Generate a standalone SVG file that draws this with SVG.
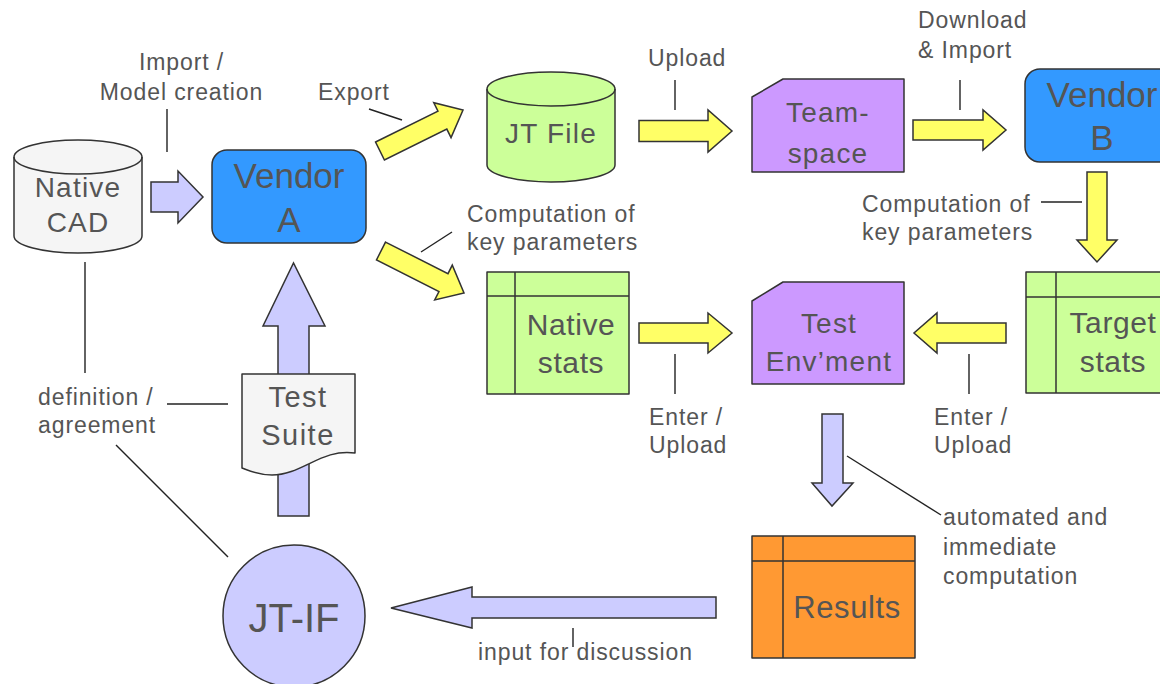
<svg xmlns="http://www.w3.org/2000/svg" width="1160" height="684" viewBox="0 0 1160 684">
<style>
.shape{stroke:#333;stroke-width:1.5;stroke-linejoin:round}
.grid{stroke:#333;stroke-width:1.5;fill:none}
.yel{fill:#ffff66;stroke:#333;stroke-width:1.5;stroke-linejoin:miter}
.lav{fill:#ccccff;stroke:#333;stroke-width:1.5;stroke-linejoin:miter}
.lead{stroke:#222;stroke-width:1.4;fill:none}
text{font-family:"Liberation Sans",Arial,sans-serif;fill:#555}
.lbl{font-size:23px;letter-spacing:0.9px}
.nt{font-size:28px;letter-spacing:1.2px;text-anchor:middle}
.vt{font-size:35px;text-anchor:middle}
</style>
<rect width="1160" height="684" fill="#fff"/>

<g id="connectors">
  <!-- yellow arrows -->
  <polygon class="yel" transform="translate(380,151) rotate(-26.3)" points="0,-10 69.6,-10 69.6,-19.5 92.6,0 69.6,19.5 69.6,10 0,10"/>
  <polygon class="yel" transform="translate(381,251) rotate(26.8)" points="0,-10 70,-10 70,-19.5 93,0 70,19.5 70,10 0,10"/>
  <polygon class="yel" points="639,120.5 708,120.5 708,110 732,131 708,152 708,141.5 639,141.5"/>
  <polygon class="yel" points="913,120 983,120 983,110 1006,130 983,150 983,140 913,140"/>
  <polygon class="yel" points="639,323 708,323 708,313 732,333 708,353 708,343 639,343"/>
  <polygon class="yel" points="1006,323 937,323 937,313 914,333 937,353 937,343 1006,343"/>
  <polygon class="yel" points="1087,172 1107,172 1107,240 1117,240 1097,262 1077,240 1087,240"/>
  <!-- lavender arrows -->
  <polygon class="lav" points="151,182 178,182 178,171 203,197 178,223 178,212 151,212"/>
  <polygon class="lav" points="278,516 278,326 263,326 293.5,263 325,326 309,326 309,516"/>
  <polygon class="lav" points="822,414 843,414 843,483 853,483 832,506 812,483 822,483"/>
  <polygon class="lav" points="716,597 472,597 472,587 391,608 472,628 472,618 716,618"/>
  <!-- label leader lines -->
  <line class="lead" x1="167" y1="109" x2="167" y2="152"/>
  <line class="lead" x1="369" y1="109" x2="402" y2="120"/>
  <line class="lead" x1="675" y1="80" x2="675" y2="110"/>
  <line class="lead" x1="960" y1="80" x2="960" y2="110"/>
  <line class="lead" x1="421" y1="252" x2="452" y2="232"/>
  <line class="lead" x1="1041" y1="202" x2="1082" y2="202"/>
  <line class="lead" x1="675" y1="354" x2="675" y2="394"/>
  <line class="lead" x1="969" y1="354" x2="969" y2="394"/>
  <line class="lead" x1="847" y1="456" x2="941" y2="515"/>
  <line class="lead" x1="573" y1="628" x2="573" y2="647"/>
  <line class="lead" x1="85" y1="262" x2="85" y2="373"/>
  <line class="lead" x1="167" y1="404" x2="228" y2="404"/>
  <line class="lead" x1="116" y1="445" x2="228" y2="557"/>
  <!-- labels -->
  <text class="lbl" x="181.5" y="70" text-anchor="middle">Import /</text>
  <text class="lbl" x="181.5" y="100" text-anchor="middle">Model creation</text>
  <text class="lbl" x="318" y="100">Export</text>
  <text class="lbl" x="648" y="66">Upload</text>
  <text class="lbl" x="918" y="28">Download</text>
  <text class="lbl" x="918" y="58">&amp; Import</text>
  <text class="lbl" x="467" y="222">Computation of</text>
  <text class="lbl" x="467" y="250">key parameters</text>
  <text class="lbl" x="862" y="212">Computation of</text>
  <text class="lbl" x="862" y="240">key parameters</text>
  <text class="lbl" x="649" y="425">Enter /</text>
  <text class="lbl" x="649" y="453">Upload</text>
  <text class="lbl" x="934" y="425">Enter /</text>
  <text class="lbl" x="934" y="453">Upload</text>
  <text class="lbl" x="943" y="525">automated and</text>
  <text class="lbl" x="943" y="555">immediate</text>
  <text class="lbl" x="943" y="584">computation</text>
  <text class="lbl" x="478" y="660">input for discussion</text>
  <text class="lbl" x="38" y="405">definition /</text>
  <text class="lbl" x="38" y="433">agreement</text>
</g>

<g id="native-cad">
  <path class="shape" fill="#f5f5f5" d="M14,157 A64,17 0 0 1 142,157 L142,236 A64,17 0 0 1 14,236 Z"/>
  <path class="shape" fill="none" d="M14,157 A64,17 0 0 0 142,157"/>
  <text class="nt" x="78" y="197">Native</text>
  <text class="nt" x="78" y="232">CAD</text>
</g>

<g id="vendor-a">
  <rect class="shape" fill="#3399ff" x="212" y="150" width="154" height="93" rx="15"/>
  <text class="vt" x="289" y="188">Vendor</text>
  <text class="vt" x="289" y="232">A</text>
</g>

<g id="jt-file">
  <path class="shape" fill="#ccff99" d="M487,89 A64,17 0 0 1 615,89 L615,165 A64,17 0 0 1 487,165 Z"/>
  <path class="shape" fill="none" d="M487,89 A64,17 0 0 0 615,89"/>
  <text class="nt" x="551" y="143">JT File</text>
</g>

<g id="team-space">
  <polygon class="shape" fill="#cc99ff" points="752,97 783,79 904,79 904,172 752,172"/>
  <text class="nt" x="828" y="122">Team-</text>
  <text class="nt" x="828" y="163">space</text>
</g>

<g id="vendor-b">
  <rect class="shape" fill="#3399ff" x="1025" y="69" width="154" height="93" rx="15"/>
  <text class="vt" x="1102" y="107">Vendor</text>
  <text class="vt" x="1102" y="150">B</text>
</g>

<g id="native-stats">
  <rect class="shape" fill="#ccff99" x="487" y="272" width="142" height="122"/>
  <path class="grid" d="M515,272 V394 M487,296 H629"/>
  <text class="nt" x="571" y="335" style="font-size:30px;letter-spacing:0.6px">Native</text>
  <text class="nt" x="571" y="373" style="font-size:30px;letter-spacing:0.6px">stats</text>
</g>

<g id="test-env">
  <polygon class="shape" fill="#cc99ff" points="752,301 783,282 904,282 904,384 752,384"/>
  <text class="nt" x="829" y="333">Test</text>
  <text class="nt" x="829" y="371">Env’ment</text>
</g>

<g id="target-stats">
  <rect class="shape" fill="#ccff99" x="1026" y="272" width="142" height="121"/>
  <path class="grid" d="M1056,272 V393 M1026,297 H1168"/>
  <text class="nt" x="1113" y="333" style="font-size:30px;letter-spacing:0.6px">Target</text>
  <text class="nt" x="1113" y="372" style="font-size:30px;letter-spacing:0.6px">stats</text>
</g>

<g id="results">
  <rect class="shape" fill="#ff9933" x="752" y="536" width="163" height="122"/>
  <path class="grid" d="M783,536 V658 M752,561 H915"/>
  <text class="nt" x="847" y="618" style="font-size:31px;letter-spacing:0.6px">Results</text>
</g>

<g id="test-suite">
  <path class="shape" fill="#f5f5f5" d="M242,374 H355 V453 C322,448 302,475 272,475 C258,475 250,471 242,468 Z"/>
  <text class="nt" x="298" y="407" style="font-size:29px;letter-spacing:1.5px">Test</text>
  <text class="nt" x="298" y="445" style="font-size:29px;letter-spacing:1.5px">Suite</text>
</g>

<g id="jt-if">
  <circle class="shape" fill="#ccccff" cx="294" cy="616" r="71"/>
  <text x="294" y="632" text-anchor="middle" style="font-size:40px">JT-IF</text>
</g>
</svg>
